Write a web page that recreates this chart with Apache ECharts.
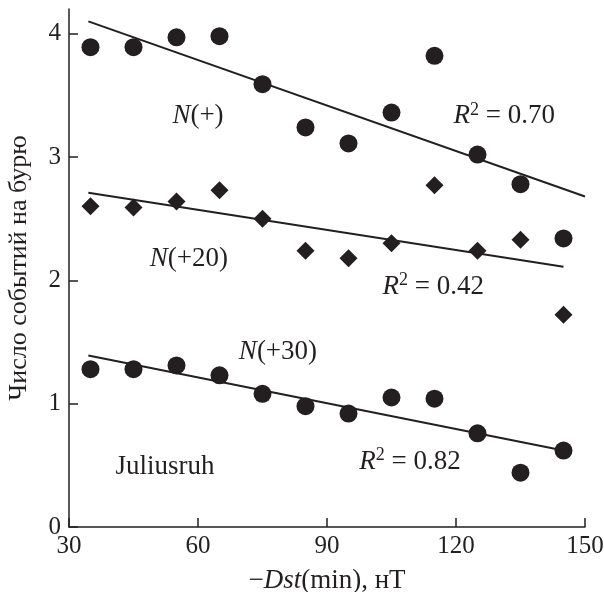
<!DOCTYPE html>
<html>
<head>
<meta charset="utf-8">
<script src="https://cdn.jsdelivr.net/npm/echarts@6/dist/echarts.min.js"></script>
<style>
html,body{margin:0;padding:0;background:#fff;}
#chart{width:604px;height:592px;}
</style>
</head>
<body>
<div id="chart"></div>
<script>
// Data (x = -Dst(min), nT)
const xValues = [35, 45, 55, 65, 75, 85, 95, 105, 115, 125, 135, 145];
const nPlus   = [3.89, 3.89, 3.97, 3.98, 3.59, 3.24, 3.11, 3.36, 3.82, 3.02, 2.78, 2.34];
const nPlus20 = [2.60, 2.59, 2.64, 2.73, 2.50, 2.24, 2.18, 2.30, 2.77, 2.24, 2.33, 1.72];
const nPlus30 = [1.28, 1.28, 1.31, 1.23, 1.08, 0.98, 0.92, 1.05, 1.04, 0.76, 0.44, 0.62];
// regression line endpoints
const fitPlus   = [[34.5, 4.10], [150, 2.68]];
const fitPlus20 = [[34.5, 2.71], [145, 2.11]];
const fitPlus30 = [[34.5, 1.39], [145, 0.62]];
const yTicks = [0, 1, 2, 3, 4];
const xTicks = [30, 60, 90, 120, 150];
// annotations: [x, y, rich text]
const annotations = [
  [60.0, 3.33, '{i|N}{n|(+)}'],
  [131.2, 3.33, '{i|R}{s|2}{n| = 0.70}'],
  [57.9, 2.17, '{i|N}{n|(+20)}'],
  [114.7, 1.95, '{i|R}{s|2}{n| = 0.42}'],
  [78.6, 1.42, '{i|N}{n|(+30)}'],
  [52.3, 0.49, '{n|Juliusruh}'],
  [109.3, 0.53, '{i|R}{s|2}{n| = 0.82}']
];

const FONT = '"Liberation Serif", "Times New Roman", serif';
const INK = '#231f20';
const pts = (ys) => xValues.map((x, i) => [x, ys[i]]);
const rich = {
  i: {fontFamily: FONT, fontSize: 27, fontStyle: 'italic', color: INK, lineHeight: 30},
  n: {fontFamily: FONT, fontSize: 27, color: INK, lineHeight: 30},
  s: {fontFamily: FONT, fontSize: 18, color: INK, verticalAlign: 'top', lineHeight: 18}
};

const chart = echarts.init(document.getElementById('chart'));
const lineSeries = (d) => ({
  type: 'line', data: d, symbol: 'none', silent: true,
  lineStyle: {color: INK, width: 2}, z: 2
});
chart.setOption({
  animation: false,
  backgroundColor: '#fff',
  grid: {left: 69, right: 19, top: 9, bottom: 65, outerBoundsMode: 'none', containLabel: false},
  xAxis: {
    type: 'value', min: 30, max: 150, interval: 30,
    axisLine: {lineStyle: {color: INK, width: 1.5}},
    axisTick: {inside: true, length: 9, lineStyle: {color: INK, width: 1.5}, customValues: xTicks},
    axisLabel: {fontFamily: FONT, fontSize: 25, color: INK, margin: 7, customValues: xTicks},
    splitLine: {show: false},
    name: '{n|−}{i|Dst}{n|(min), нТ}',
    nameLocation: 'middle', nameGap: 39,
    nameTextStyle: {rich: rich}
  },
  yAxis: {
    type: 'value', min: 0, max: 4.2,
    axisLine: {show: true, lineStyle: {color: INK, width: 1.5}},
    axisTick: {show: true, inside: true, length: 9, lineStyle: {color: INK, width: 1.5}, customValues: yTicks},
    axisLabel: {fontFamily: FONT, fontSize: 25, color: INK, margin: 8, customValues: yTicks},
    splitLine: {show: false},
    name: 'Число событий на бурю',
    nameLocation: 'middle', nameGap: 37, nameRotate: 90,
    nameTextStyle: {fontFamily: FONT, fontSize: 26, color: INK}
  },
  series: [
    lineSeries(fitPlus), lineSeries(fitPlus20), lineSeries(fitPlus30),
    {type: 'scatter', data: pts(nPlus), symbol: 'circle', symbolSize: 18, itemStyle: {color: INK, opacity: 1}, z: 3},
    {type: 'scatter', data: pts(nPlus20), symbol: 'diamond', symbolSize: [18, 18], itemStyle: {color: INK, opacity: 1}, z: 3},
    {type: 'scatter', data: pts(nPlus30), symbol: 'circle', symbolSize: 18, itemStyle: {color: INK, opacity: 1}, z: 3},
    {
      type: 'scatter', symbolSize: 0, silent: true, z: 4,
      itemStyle: {opacity: 1},
      data: annotations.map(a => ({value: [a[0], a[1]], label: {formatter: a[2]}})),
      label: {show: true, position: 'inside', rich: rich, opacity: 1}
    }
  ]
});
</script>
</body>
</html>
